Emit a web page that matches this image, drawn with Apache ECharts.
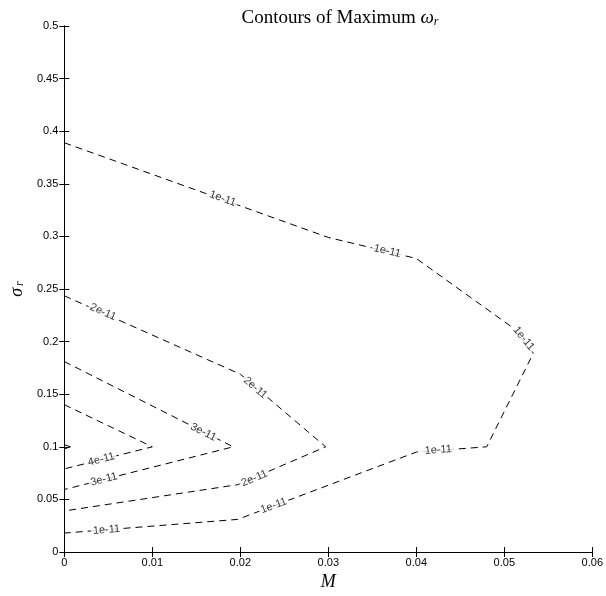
<!DOCTYPE html>
<html>
<head>
<meta charset="utf-8">
<script src="https://cdn.jsdelivr.net/npm/echarts@6/dist/echarts.min.js"></script>
<style>
html,body{margin:0;padding:0;background:#fff;}
#chart{width:606px;height:596px;}
</style>
</head>
<body>
<div id="chart"></div>
<script>
// ---- data (M, sigma_r) ----
const xTicks = [0, 0.01, 0.02, 0.03, 0.04, 0.05, 0.06];
const yTicks = [0, 0.05, 0.1, 0.15, 0.2, 0.25, 0.3, 0.35, 0.4, 0.45, 0.5];

const contour1e11 = [[0,0.389],[0.03,0.299],[0.04,0.279],[0.051,0.213],[0.0533,0.189],[0.048,0.100],[0.040,0.095],[0.0197,0.031],[0,0.018]];
const contour2e11 = [[0,0.2435],[0.02,0.169],[0.0297,0.100],[0.0197,0.064],[0,0.039]];
const contour3e11 = [[0,0.181],[0.0192,0.100],[0,0.0594]];
const contour4e11 = [[0,0.140],[0.0100,0.100],[0,0.079]];
const contour5e11 = [[0,0.102],[0.0007,0.100],[0,0.098]];

const labels1e11 = [[0.018,0.336],[0.0367,0.286],[0.0522,0.203],[0.0425,0.097],[0.0238,0.044],[0.0048,0.021]];
const labels2e11 = [[0.0044,0.228],[0.0217,0.156],[0.0216,0.070]];
const labels3e11 = [[0.0158,0.114],[0.0045,0.069]];
const labels4e11 = [[0.0042,0.088]];

const contours = [
  {name:'1e-11', line:contour1e11, labels:labels1e11},
  {name:'2e-11', line:contour2e11, labels:labels2e11},
  {name:'3e-11', line:contour3e11, labels:labels3e11},
  {name:'4e-11', line:contour4e11, labels:labels4e11},
  {name:'5e-11', line:contour5e11, labels:[]}
];

const chart = echarts.init(document.getElementById('chart'), null, {renderer:'canvas'});
const fmt = v => String(Math.round(v*100)/100);

function baseOption(rotations){
  const series = [];
  contours.forEach((c,i)=>{
    series.push({
      type:'line', data:c.line, symbol:'none', silent:true, z:2,
      lineStyle:{color:'#000', width:1, type:(c.name==='5e-11'?'solid':[7,5])},
      animation:false
    });
  });
  contours.forEach((c,i)=>{
    if(!c.labels.length) return;
    series.push({
      type:'scatter', symbolSize:0, z:5, silent:true, animation:false,
      data:c.labels.map((p,j)=>({value:p, label:{rotate: rotations ? rotations[i][j] : 0}})),
      label:{show:true, position:'inside', formatter:()=>c.name,
        fontFamily:'Liberation Sans, Arial, sans-serif', fontSize:11, color:'#000',
        backgroundColor:'#fff', padding:[0,2]}
    });
  });
  const axisCommon = {
    type:'value', min:0,
    axisLine:{show:true, lineStyle:{color:'#000', width:1}},
    axisTick:{show:true, inside:true, length:5, lineStyle:{color:'#000'}},
    splitLine:{show:false}
  };
  return {
    animation:false,
    backgroundColor:'#fff',
    title:{
      text:'Contours of Maximum {w|ω}{s|r}',
      left:335, top:3, textAlign:'center',
      textStyle:{fontFamily:'Liberation Serif, Times New Roman, serif', fontSize:19, fontWeight:'normal', color:'#000',
        rich:{w:{fontFamily:'Liberation Serif, serif', fontSize:19, fontStyle:'italic'}, s:{fontFamily:'Liberation Serif, serif', fontSize:12, fontStyle:'italic', verticalAlign:'bottom', padding:[8,0,0,0]}}}
    },
    grid:{left:52, right:12, top:26, bottom:34, containLabel:false},
    xAxis:[
      Object.assign({}, axisCommon, {position:'bottom', max:0.06, interval:0.01,
        name:'M', nameLocation:'middle', nameGap:21,
        nameTextStyle:{fontFamily:'Liberation Serif, serif', fontStyle:'italic', fontSize:18, color:'#000'},
        axisLabel:{formatter:fmt, fontFamily:'Liberation Sans, Arial, sans-serif', fontSize:11, color:'#000', margin:5}}),
      Object.assign({}, axisCommon, {position:'top', max:0.06, interval:0.01, axisLabel:{show:false}})
    ],
    yAxis:[
      Object.assign({}, axisCommon, {position:'left', max:0.5, interval:0.05,
        name:'{a|σ}{b|r}', nameLocation:'middle', nameGap:26, nameRotate:90,
        nameTextStyle:{color:'#000', rich:{a:{fontFamily:'Liberation Serif, serif', fontStyle:'italic', fontSize:18, color:'#000'}, b:{fontFamily:'Liberation Serif, serif', fontStyle:'italic', fontSize:12, color:'#000', padding:[6,0,0,2]}}},
        axisLabel:{formatter:fmt, fontFamily:'Liberation Sans, Arial, sans-serif', fontSize:11, color:'#000', margin:6}}),
      Object.assign({}, axisCommon, {position:'right', max:0.5, interval:0.05, axisLabel:{show:false}})
    ],
    series:series
  };
}

chart.setOption(baseOption(null));

// compute label rotations from contour direction in pixel space
function segAngle(line, p){
  const pp = chart.convertToPixel({gridIndex:0}, p);
  let best=null, bd=Infinity;
  for(let k=0;k<line.length-1;k++){
    const a = chart.convertToPixel({gridIndex:0}, line[k]);
    const b = chart.convertToPixel({gridIndex:0}, line[k+1]);
    const dx=b[0]-a[0], dy=b[1]-a[1];
    const L2 = dx*dx+dy*dy;
    let t = ((pp[0]-a[0])*dx+(pp[1]-a[1])*dy)/L2;
    t=Math.max(0,Math.min(1,t));
    const cx=a[0]+t*dx, cy=a[1]+t*dy;
    const d=(pp[0]-cx)**2+(pp[1]-cy)**2;
    if(d<bd){bd=d; best=[dx,dy];}
  }
  let ang = Math.atan2(-best[1], best[0])*180/Math.PI;
  if(ang>90) ang-=180;
  if(ang<-90) ang+=180;
  return ang;
}
const rotations = contours.map(c => c.labels.map(p => segAngle(c.line, p)));
chart.setOption(baseOption(rotations));
</script>
</body>
</html>
